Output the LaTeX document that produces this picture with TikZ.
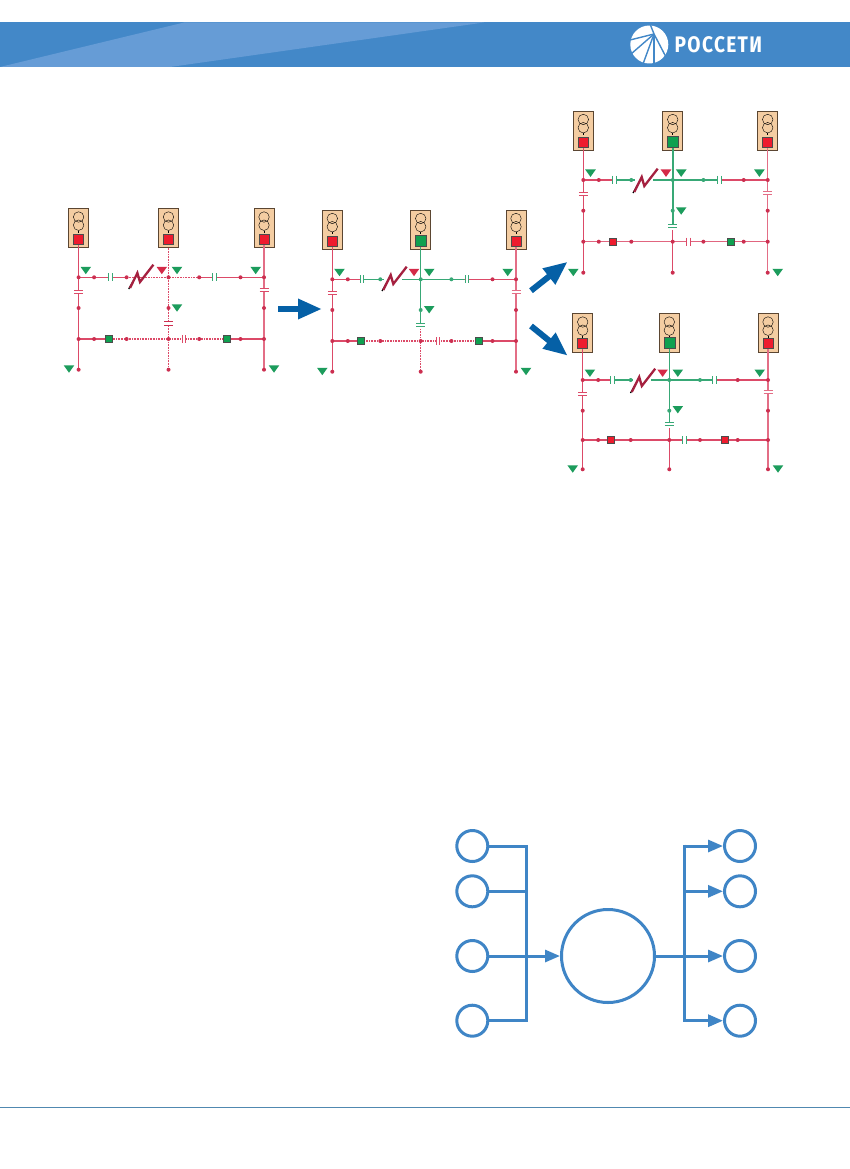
\documentclass[tikz,border=0pt]{standalone}
\usepackage{fontspec}
\setmainfont{Fira Sans}
\usetikzlibrary{arrows.meta,calc}
\definecolor{hdr}{HTML}{4388C8}
\definecolor{hdrl}{HTML}{669CD6}
\definecolor{flow}{HTML}{3F85C6}
\definecolor{bigarrow}{HTML}{0560A6}
\definecolor{rd}{HTML}{DC4A68}
\definecolor{rdn}{HTML}{CC2F50}
\definecolor{gn}{HTML}{38A876}
\definecolor{gntri}{HTML}{1C9C5C}
\definecolor{rdtri}{HTML}{D42A48}
\definecolor{sqr}{HTML}{EE1C2E}
\definecolor{sqg}{HTML}{0FA050}
\definecolor{boxf}{HTML}{F4CDA2}
\definecolor{boxd}{HTML}{5B4632}
\definecolor{bolt}{HTML}{A5203F}
\definecolor{rule}{HTML}{5088B0}
\tikzset{
  x=1pt,y=-1pt,
  seg/.style={line width=1.3pt},
  dots/.style={line width=1.3pt,dash pattern=on 1pt off 0.6pt},
  subst/.style={draw=boxd,fill=boxf,line width=0.8pt,minimum width=20pt,minimum height=39pt,inner sep=0pt,outer sep=0pt},
  coil/.style={circle,draw=black,line width=0.4pt,minimum size=10.5pt,inner sep=0pt},
  brk/.style={draw=black!70,line width=0.6pt,minimum size=10pt,inner sep=0pt},
  tri/.style={fill=gntri},
  flowc/.style={circle,draw=flow,line width=3pt,inner sep=0pt,fill=white},
  flowl/.style={draw=flow,line width=3pt,line cap=butt,line join=miter},
  flowa/.style={flowl,-{Triangle[length=15pt,width=12pt]}},
  bigarr/.style={draw=bigarrow,line width=6pt,-{Triangle[length=24pt,width=19pt,sep=0pt]}},
}
\newcommand{\dtri}[2]{\fill[#1] ($(#2)+(-5.3,-3.7)$) -- ++(10.6,0) -- ++(-5.3,7.4) -- cycle;}
\newcommand{\capH}[2]{\fill[white] ($(#2)+(-1.8,-2)$) rectangle ++(3.6,4);
  \draw[#1,line width=1.1pt] ($(#2)+(-1.8,-4)$) -- ++(0,8) ($(#2)+(1.8,-4)$) -- ++(0,8);}
\newcommand{\capV}[2]{\fill[white] ($(#2)+(-2,-1.5)$) rectangle ++(4,3);
  \draw[#1,line width=1.1pt] ($(#2)+(-4.5,-1.8)$) -- ++(9,0) ($(#2)+(-4.5,1.8)$) -- ++(9,0);}
% #1 prefix, #2 xl, #3 xm, #4 xr, #5 bus y, #6 lower y, #7 bottom y, #8 box top, #9 xr-offset of the right nodes
\newcommand{\scheme}[9]{%
  \coordinate (#1TL) at (#2,#5); \coordinate (#1TM) at (#3,#5); \coordinate (#1TR) at (#4,#5);
  \coordinate (#1LL) at (#2,#6); \coordinate (#1LM) at (#3,#6); \coordinate (#1LR) at (#4,#6);
  \coordinate (#1BL) at (#2,#7); \coordinate (#1BM) at (#3,#7); \coordinate (#1BR) at (#4,#7);
  \coordinate (#1ML) at (#2,{#5+30.7}); \coordinate (#1MM) at (#3,{#5+30.7}); \coordinate (#1MR) at (#4,{#5+30.7});
  \coordinate (#1a) at ({#2+15.5},#5); \coordinate (#1b) at ({#2+48},#5);
  \coordinate (#1c) at ({#3+30.7},#5); \coordinate (#1d) at ({#4-#9},#5);
  \coordinate (#1e) at ({#2+15.5},#6); \coordinate (#1f) at ({#2+48},#6);
  \coordinate (#1g) at ({#3+30.7},#6); \coordinate (#1h) at ({#4-#9},#6);
  \foreach \n/\x in {l/#2,m/#3,r/#4}{
    \node[subst,anchor=north] (#1box\n) at (\x,#8) {};
    \node[coil] (#1ca\n) at (\x,{#8+8.5}) {};
    \node[coil] (#1cb\n) at (\x,{#8+16.7}) {};
  }
  \draw[line width=0.5pt] (#1cbl.south) -- ++(0,2) (#1cbm.south) -- ++(0,2) (#1cbr.south) -- ++(0,2);
  \draw[seg,draw=rd] (#1TL) -- (#1LL) -- (#1BL);
  \draw[seg,draw=rd!80!white] (#1TR) -- (#1LR) -- (#1BR);
  \draw[seg,draw=rd] ($(#1boxl.south)+(0,-6)$) -- (#1TL);
  \draw[seg,draw=rd!80!white] ($(#1boxr.south)+(0,-6)$) -- (#1TR);
  \draw[seg,draw=rd] (#1TL) -- (#1a) -- ({#2+30},#5);
  \draw[seg,draw=rd] (#1d) -- (#1TR);
  \draw[seg,draw=rd] (#1LL) -- (#1e) -- ({#2+30},#6);
  \draw[seg,draw=rd] ({#4-37},#6) -- (#1h) -- (#1LR);
}
\newcommand{\tris}[9]{%
  \dtri{tri}{{#2+7.2},{#5-6.8}}
  \dtri{fill=rdtri}{{#3-6.7},{#5-6.8}}
  \dtri{tri}{{#3+8.5},{#5-6.8}}
  \dtri{tri}{{#4-8.3},{#5-6.8}}
  \dtri{tri}{{#3+8.5},{#6}}
  \dtri{tri}{{#2-#8},{#7}}
  \dtri{tri}{{#4+#9},{#7}}
}
\newcommand{\boltmark}[2]{%
  \draw[black,line width=1.2pt] ($(#1,#2)+(-12,12)$) -- ($(#1,#2)+(-7.5,4)$);
  \draw[bolt,line width=2.3pt,line join=miter,miter limit=10] ($(#1,#2)+(-10.7,11)$) -- ($(#1,#2)+(-3.3,-4)$) -- ($(#1,#2)+(-0.7,5)$) -- ($(#1,#2)+(12.7,-12.3)$);
}
\newcommand{\boltgap}[2]{\fill[white] ($(#1,#2)+(-10,-2)$) rectangle ++(18,4);}
\newcommand{\nodesdots}[2]{\foreach \p in {#2}{\fill[#1] (\p) circle[radius=2pt];}}
\newcommand{\sq}[3]{\node[brk,fill=#1,minimum size=#3] at (#2) {};}
\begin{document}
\begin{tikzpicture}
\useasboundingbox (0,0) rectangle (850,1169);
\fill[white] (0,0) rectangle (850,1169);
% header
\fill[hdr] (0,22.5) rectangle (850,67);
\fill[hdrl] (0,67) -- (184,22.5) -- (484,22.5) -- (170,67) -- cycle;
% logo
\node[circle,fill=white,minimum size=38pt,inner sep=0pt] (logo) at (649.3,44.5) {};
\coordinate (hub) at (654,34);
\foreach \e in {(650,24),(630,40),(631,54),(643,64),(654,65),(667,59)}{
  \draw[hdr,line width=1.4pt] (hub) -- \e;
}
\node[text=white,font=\bfseries\fontsize{22.5}{22.5}\selectfont,anchor=west,inner sep=0pt,xscale=0.85] (brand) at (674.5,44.5) {\addfontfeature{LetterSpace=7}РОССЕТИ};
% ---------- panel 1
\scheme{a}{78.6}{168.5}{264}{277.3}{339}{369.7}{208.5}{23.5}
\draw[dots,draw=rd] (aboxm.south) -- (aTM) -- (aMM) -- (aLM) -- (aBM);
\draw[dots,draw=rd] (127,277.3) -- (aTM) -- (199.3,277.3);
\draw[seg,draw=rd] (199.3,277.3) -- (aTR);
\draw[seg,draw=rd] (aTL) -- (127,277.3);
\draw[dots,draw=rd] (108,339) -- (aLM) -- (227,339);
\nodesdots{rdn}{aTL,aa,ab,aTM,ac,ad,aTR,aML,aMM,aMR,aLL,ae,af,aLM,ag,ah,aLR,aBL,aBM,aBR}
\capH{gn}{110.3,277.3}\capH{gn}{214.3,277.3}
\capV{rd}{78.6,292}\capV{rdn}{168.5,323.3}\capV{rd}{264,290}
\capH{rd}{184,339}
\sq{sqg}{108.7,339}{7pt}\sq{sqg}{227,339}{7pt}
\sq{sqr}{78.6,239.5}{10pt}\sq{sqr}{168.5,239.5}{10pt}\sq{sqr}{264,239.5}{10pt}
\tris{a}{78.6}{168.5}{264}{277.3}{308}{369}{9.6}{10}
\boltmark{140.7}{277}
% ---------- panel 2
\scheme{b}{332.3}{420.7}{516}{279.3}{341}{371.7}{210}{23.5}
\draw[seg,draw=gn] ($(bboxm.south)+(0,-6)$) -- (bTM) -- (bMM) -- (420.7,324);
\draw[dots,draw=rd] (420.7,329) -- (bLM) -- (bBM);
\draw[seg,draw=gn] (361,279.3) -- (bTM) -- (464,279.3);
\draw[seg,draw=rd] (464,279.3) -- (bTR);
\draw[dots,draw=rd] (361,341) -- (bLM) -- (479,341);
\draw[seg,draw=rd] (bTL) -- (361,279.3);
\boltgap{394}{279.3}
\nodesdots{rdn}{bTL,ba,bd,bTR,bML,bMR,bLL,be,bf,bLM,bg,bh,bLR,bBL,bBM,bBR}
\nodesdots{gn}{bb,bTM,bc,bMM}
\capH{gn}{362,279.3}\capH{gn}{467,279.3}
\capV{rd}{332.3,293}\capV{gn}{420.7,325}\capV{rd!80!white}{516,292}
\capH{rd}{438,341}
\sq{sqg}{361,341}{7pt}\sq{sqg}{479,341}{7pt}
\sq{sqr}{332.3,241}{10pt}\sq{sqg}{420.7,241}{11pt}\sq{sqr}{516,241}{10pt}
\tris{b}{332.3}{420.7}{516}{279.3}{309.7}{371.5}{10}{10}
\boltmark{394}{279}
% ---------- panel 3
\scheme{c}{583.3}{672.7}{767.7}{180}{241.7}{272.7}{111}{24}
\draw[seg,draw=gn,line width=1.6pt] ($(cboxm.south)+(0,-6)$) -- (cTM) -- (cMM) -- (672.7,226);
\draw[seg,draw=rd] (672.7,230) -- (cLM) -- (cBM);
\draw[seg,draw=gn] (612,180) -- (cTM) -- (720,180);
\draw[seg,draw=rd] (720,180) -- (cTR);
\draw[seg,draw=rd!85!white] (cLL) -- (cLM) -- (cLR);
\boltgap{645}{180}
\nodesdots{rdn}{cTL,ca,cd,cTR,cML,cMR,cLL,ce,cf,cLM,cg,ch,cLR,cBL,cBM,cBR}
\nodesdots{gn}{cb,cTM,cc,cMM}
\capH{gn}{614.7,180}\capH{gn}{719.3,180}
\capV{rd}{583.3,194}\capV{gn}{672.7,226}\capV{rd!80!white}{767.7,193}
\capH{rd}{688.3,241.7}
\sq{sqr}{612.7,241.7}{7pt}\sq{sqg}{730.3,241.7}{7pt}
\sq{sqr}{583.3,142}{10pt}\sq{sqg}{672.7,142}{11pt}\sq{sqr}{767.7,142}{10pt}
\tris{c}{583.3}{672.7}{767.7}{180}{211}{272.5}{10}{10}
\boltmark{645}{181}
% ---------- panel 4
\scheme{d}{582.7}{669.3}{768}{380}{440}{469.3}{313.5}{30.3}
\draw[seg,draw=gn] ($(dboxm.south)+(0,-6)$) -- (dTM) -- (dMM) -- (669.3,424);
\draw[seg,draw=rd] (669.3,428) -- (dLM) -- (dBM);
\draw[seg,draw=gn] (611,380) -- (dTM) -- (714.3,380);
\draw[seg,draw=rd] (714.3,380) -- (dTR);
\draw[seg,draw=rd] (dLL) -- (dLM) -- (dLR);
\boltgap{642.5}{380}
\nodesdots{rdn}{dTL,da,dd,dTR,dML,dMR,dLL,de,df,dLM,dg,dh,dLR,dBL,dBM,dBR}
\nodesdots{gn}{db,dTM,dc,dMM}
\capH{gn}{612.3,380}\capH{gn}{714.3,380}
\capV{rd}{582.7,394}\capV{gn}{669.3,424}\capV{rd!80!white}{768,392}
\capH{gn}{684.7,440}
\sq{sqr}{611,440}{7pt}\sq{sqr}{724.3,440}{7pt}
\sq{sqr}{582.7,343}{10pt}\sq{sqg}{669.3,343}{11pt}\sq{sqr}{768,343}{10pt}
\tris{d}{582.7}{669.3}{768}{380}{409.7}{469}{10}{10}
\boltmark{642.5}{381}
% ---------- big arrows
\coordinate (a1s) at (278,309); \coordinate (a1e) at (322,309);
\coordinate (a2s) at (531,290.7); \coordinate (a2e) at (567.7,261.7);
\coordinate (a3s) at (531,326); \coordinate (a3e) at (567.7,355.7);
\draw[bigarr] (a1s) -- (a1e);
\draw[bigarr] (a2s) -- (a2e);
\draw[bigarr] (a3s) -- (a3e);
% ---------- flow diagram
\node[flowc,minimum size=93pt] (hub2) at (608,956) {};
\foreach \n/\y in {1/846,2/891.3,3/956,4/1020.7}{
  \node[flowc,minimum size=31pt] (in\n) at (472.3,\y) {};
  \node[flowc,minimum size=31pt] (out\n) at (740,\y) {};
}
\coordinate (colL1) at (526.7,846); \coordinate (colL4) at (526.7,1020.7);
\coordinate (colL2) at (526.7,891.3); \coordinate (colL3) at (526.7,956);
\coordinate (colR1) at (684.3,846); \coordinate (colR4) at (684.3,1020.7);
\coordinate (colR2) at (684.3,891.3); \coordinate (colR3) at (684.3,956);
\draw[flowl] (in1) -- (colL1) -- (colL4) -- (in4);
\draw[flowl] (in2) -- (colL2);
\draw[flowa] (in3) -- (hub2);
\draw[flowl] (hub2) -- (colR3);
\draw[flowa] (colR2) -- (out2);
\draw[flowa] (colR3) -- (out3);
\draw[flowa] (out1 -| colR1) -- (out1);
\draw[flowa] (out4 -| colR4) -- (out4);
\draw[flowl] ($(colR1)+(0,-1.5)$) -- ($(colR4)+(0,1.5)$);
% footer rule
\coordinate (fl) at (0,1107.3); \coordinate (fr) at (850,1107.3);
\draw[draw=rule,line width=1pt] (fl) -- (fr);
\end{tikzpicture}
\end{document}
